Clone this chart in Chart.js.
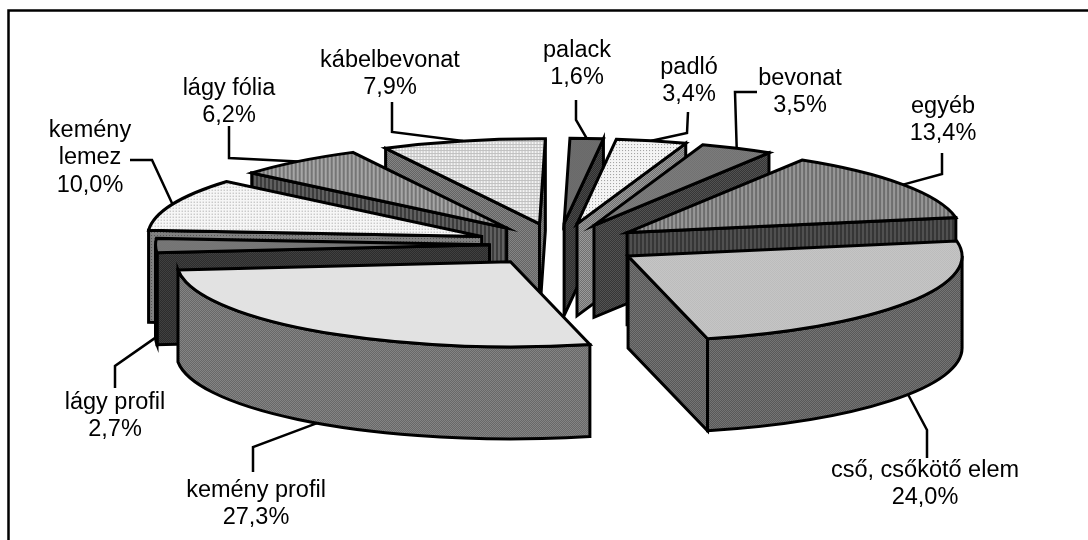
<!DOCTYPE html>
<html>
<head>
<meta charset="utf-8">
<style>
    html, body { margin: 0; padding: 0; background: #fff; }
    canvas { display: block; }
</style>
<script src="https://cdn.jsdelivr.net/npm/chart.js@4"></script>
</head>
<body>
<canvas id="pieChart" width="1088" height="540"></canvas>
<script>
// #############################################################################
// Data
const categories = ["palack", "padló", "bevonat", "egyéb", "cső, csőkötő elem",
    "kemény profil", "lágy profil", "kemény lemez", "lágy fólia", "kábelbevonat"];
const shares = [1.6, 3.4, 3.5, 13.4, 24.0, 27.3, 2.7, 10.0, 6.2, 7.9];

// Label text lines where the category is wrapped differently from its name
const labelLines = [["palack"], ["padló"], ["bevonat"], ["egyéb"], ["cső, csőkötő elem"],
    ["kemény profil"], ["lágy profil"], ["kemény", "lemez"], ["lágy fólia"], ["kábelbevonat"]];

// #############################################################################
// Look of the chart
const pieCenter = { x: 558.5, y: 244.5 };
const pieRadius = 334;
const squash = 0.255;
const explodes = [83, 83, 83, 83, 83, 83, 69, 83, 83, 83];
const depth = 92;
const lineHeight = 27.5;

// Where each label sits (centre of first line) and the bend points of its leader
const labelSpots = [
    { x: 577, y: 50.5, leader: [[576, 100], [576, 120]] },
    { x: 689, y: 67.5, leader: [[688, 112], [687, 133]] },
    { x: 800, y: 78.5, leader: [[757, 92], [735, 92]] },
    { x: 943, y: 106.5, leader: [[942, 153], [942, 174]] },
    { x: 925, y: 470.5, leader: [[927, 458], [927, 430]] },
    { x: 256, y: 490.5, leader: [[253, 472], [253, 447]] },
    { x: 115, y: 402.5, leader: [[115, 388], [115, 366]] },
    { x: 90, y: 130.5, leader: [[130, 160], [152, 160]] },
    { x: 229, y: 88.5, leader: [[229, 126], [229, 158]] },
    { x: 390, y: 60.5, leader: [[392, 102], [392, 132]] },
];

// Tile builders for the dithered fills
function makeTile(cols, rows, colorAt) {
    const tile = document.createElement("canvas");
    tile.width = cols;
    tile.height = rows;
    const tileCtx = tile.getContext("2d");
    for (let r = 0; r < rows; r++) {
        for (let c = 0; c < cols; c++) {
            tileCtx.fillStyle = colorAt(c, r);
            tileCtx.fillRect(c, r, 1, 1);
        }
    }
    return tile;
}
const checker = (a, b) => makeTile(2, 2, (c, r) => ((c + r) % 2 ? a : b));
const stripes = (a, b) => makeTile(4, 1, (c) => (c < 2 ? a : b));
const dots = (a, b) => makeTile(3, 3, (c, r) => (c === 1 && r === 1 ? a : b));
const grid = (a, b) => makeTile(3, 3, (c, r) => (c === 1 || r === 1 ? a : b));

const topTiles = [
    checker("#585858", "#808080"), dots("#999999", "#f4f4f4"), checker("#555555", "#999999"),
    stripes("#6e6e6e", "#969696"), checker("#b4b4b4", "#cecece"), checker("#d6d6d6", "#eeeeee"),
    checker("#646464", "#888888"), dots("#9a9a9a", "#f6f6f6"), stripes("#757575", "#a6a6a6"),
    grid("#c0c0c0", "#f4f4f4"),
];
const wallTiles = [
    checker("#2e2e2e", "#484848"), checker("#707070", "#9a9a9a"), checker("#363636", "#525252"),
    stripes("#363636", "#505050"), checker("#585858", "#747474"), checker("#686868", "#848484"),
    checker("#2c2c2c", "#404040"), dots("#555555", "#808080"), stripes("#3c3c3c", "#606060"),
    checker("#646464", "#848484"),
];

// #############################################################################
// Chart
const ctx = document.getElementById("pieChart").getContext("2d");

const wallFills = wallTiles.map((tile) => ctx.createPattern(tile, "repeat"));
const topFills = topTiles.map((tile) => {
    const pattern = ctx.createPattern(tile, "repeat");
    // The top faces are painted squashed, keep the dither at screen size
    pattern.setTransform(new DOMMatrix().scale(1, 1 / squash));
    return pattern;
});

// Geometry of one exploded slice, read from the arc the library laid out
function sliceShape(arc, index) {
    const mid = (arc.startAngle + arc.endAngle) / 2;
    const rx = arc.outerRadius;
    const ry = rx * squash;
    const ax = pieCenter.x + Math.cos(mid) * explodes[index];
    const ay = pieCenter.y + Math.sin(mid) * explodes[index] * squash;
    return {
        mid, rx, ry, ax, ay,
        start: arc.startAngle,
        end: arc.endAngle,
        rim: (angle) => [ax + Math.cos(angle) * rx, ay + Math.sin(angle) * ry],
    };
}

function paintFace(chartCtx, fill) {
    chartCtx.fillStyle = fill;
    chartCtx.fill();
    chartCtx.stroke();
}

function drawCutFace(chartCtx, shape, angle, fill) {
    const [px, py] = shape.rim(angle);
    chartCtx.beginPath();
    chartCtx.moveTo(shape.ax, shape.ay);
    chartCtx.lineTo(px, py);
    chartCtx.lineTo(px, py + depth);
    chartCtx.lineTo(shape.ax, shape.ay + depth);
    chartCtx.closePath();
    paintFace(chartCtx, fill);
}

function drawSlice(chartCtx, arc, index) {
    const shape = sliceShape(arc, index);
    const fill = wallFills[index];

    // Cut faces that turn towards the viewer
    if (Math.cos(shape.start) < 0) drawCutFace(chartCtx, shape, shape.start, fill);
    if (Math.cos(shape.end) > 0) drawCutFace(chartCtx, shape, shape.end, fill);

    // Outer wall, only the front half of the rim
    const from = Math.max(shape.start, 0);
    const to = Math.min(shape.end, Math.PI);
    if (to > from) {
        chartCtx.beginPath();
        chartCtx.ellipse(shape.ax, shape.ay, shape.rx, shape.ry, 0, from, to);
        chartCtx.ellipse(shape.ax, shape.ay + depth, shape.rx, shape.ry, 0, to, from, true);
        chartCtx.closePath();
        paintFace(chartCtx, fill);
    }

    // Top face is the library's own arc, squashed
    chartCtx.save();
    chartCtx.translate(shape.ax, shape.ay);
    chartCtx.scale(1, squash);
    chartCtx.translate(-arc.x, -arc.y);
    arc.draw(chartCtx);
    chartCtx.restore();

    chartCtx.beginPath();
    chartCtx.moveTo(shape.ax, shape.ay);
    chartCtx.ellipse(shape.ax, shape.ay, shape.rx, shape.ry, 0, shape.start, shape.end);
    chartCtx.closePath();
    chartCtx.stroke();
}

const exploded3dPie = {
    id: "exploded3dPie",
    beforeDatasetDraw(chart, args) {
        const chartCtx = chart.ctx;
        const arcs = args.meta.data;

        // Frame, it runs off the page on the right and at the bottom
        chartCtx.save();
        chartCtx.strokeStyle = "#000";
        chartCtx.lineWidth = 2.5;
        chartCtx.beginPath();
        chartCtx.moveTo(8.5, 540);
        chartCtx.lineTo(8.5, 10.5);
        chartCtx.lineTo(1088, 10.5);
        chartCtx.stroke();

        // Back slices first
        const order = arcs.map((arc, index) => index).sort((a, b) => {
            const midA = (arcs[a].startAngle + arcs[a].endAngle) / 2;
            const midB = (arcs[b].startAngle + arcs[b].endAngle) / 2;
            return Math.sin(midA) - Math.sin(midB);
        });

        // Leaders run under the pie edge, front slices catch them at the wall foot
        chartCtx.lineWidth = 2.5;
        chartCtx.lineJoin = "miter";
        arcs.forEach((arc, index) => {
            const shape = sliceShape(arc, index);
            const [rimX, rimY] = shape.rim(shape.mid);
            const footY = Math.sin(shape.mid) > 0 ? rimY + depth : rimY;
            const bends = labelSpots[index].leader;
            chartCtx.beginPath();
            bends.forEach(([x, y], i) => (i ? chartCtx.lineTo(x, y) : chartCtx.moveTo(x, y)));
            chartCtx.lineTo(rimX, footY);
            chartCtx.stroke();
        });

        chartCtx.lineWidth = 3;
        order.forEach((index) => drawSlice(chartCtx, arcs[index], index));

        // Labels
        chartCtx.fillStyle = "#000";
        chartCtx.font = '23.5px "Liberation Sans", Arial, sans-serif';
        chartCtx.textAlign = "center";
        chartCtx.textBaseline = "middle";
        labelLines.forEach((lines, index) => {
            const spot = labelSpots[index];
            const valueText = shares[index].toFixed(1).replace(".", ",") + "%";
            [...lines, valueText].forEach((line, i) => {
                chartCtx.fillText(line, spot.x, spot.y + i * lineHeight);
            });
        });
        chartCtx.restore();
        return false;
    },
};

const chart = new Chart(ctx, {
    type: "pie",
    data: {
        labels: categories,
        datasets: [
            {
                data: shares,
                backgroundColor: topFills,
                borderWidth: 0,
                clip: false,
            },
        ],
    },
    options: {
        responsive: false,
        animation: false,
        rotation: 1,
        radius: pieRadius,
        plugins: {
            legend: { display: false },
            tooltip: { enabled: false },
        },
    },
    plugins: [exploded3dPie],
});
</script>
</body>
</html>
